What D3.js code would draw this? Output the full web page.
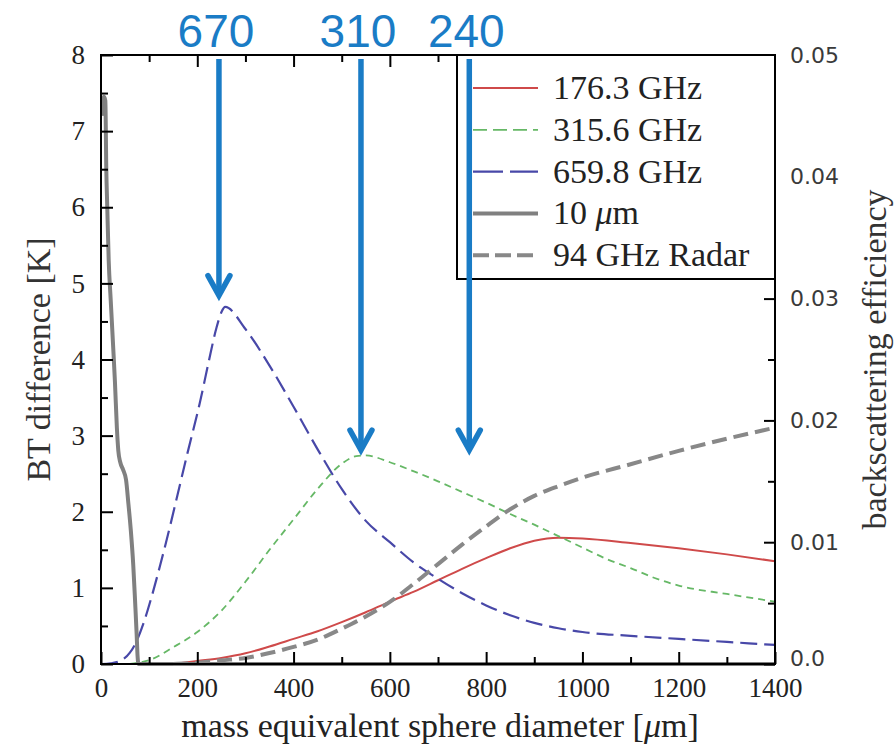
<!DOCTYPE html>
<html>
<head>
<meta charset="utf-8">
<script src="https://cdn.jsdelivr.net/npm/d3@7"></script>
<style>
  body { margin: 0; background: #fff; }
  svg { display: block; }
</style>
</head>
<body>
<div id="chart"></div>
<script>
// 176.3 GHz BT difference [K]
const diam176 = [150, 200, 250, 300, 350, 400, 450, 500, 550, 600, 650, 700, 750, 800, 850, 900, 950, 1000, 1100, 1200, 1300, 1400];
const bt176   = [0.0, 0.04, 0.08, 0.14, 0.23, 0.33, 0.43, 0.55, 0.68, 0.82, 0.95, 1.1, 1.25, 1.39, 1.52, 1.62, 1.66, 1.65, 1.59, 1.52, 1.44, 1.35];

// 315.6 GHz
const diam315 = [60, 80, 100, 150, 200, 250, 300, 350, 400, 450, 500, 530, 550, 600, 650, 700, 750, 800, 850, 900, 950, 1000, 1050, 1100, 1150, 1200, 1300, 1400];
const bt315   = [0.0, 0.02, 0.05, 0.22, 0.42, 0.7, 1.08, 1.5, 1.9, 2.3, 2.63, 2.73, 2.74, 2.65, 2.53, 2.4, 2.26, 2.12, 1.97, 1.83, 1.68, 1.53, 1.38, 1.26, 1.13, 1.03, 0.92, 0.82];

// 659.8 GHz
const diam659 = [0, 20, 40, 60, 70, 88, 105, 123, 143, 160, 180, 206, 223, 240, 250, 258, 300, 350, 400, 450, 500, 550, 600, 650, 700, 750, 800, 850, 900, 950, 1000, 1100, 1200, 1300, 1400];
const bt659   = [0.0, 0.01, 0.04, 0.15, 0.25, 0.53, 0.88, 1.3, 1.8, 2.25, 2.78, 3.45, 3.95, 4.42, 4.62, 4.69, 4.4, 3.92, 3.38, 2.82, 2.3, 1.88, 1.6, 1.33, 1.12, 0.93, 0.77, 0.64, 0.54, 0.47, 0.42, 0.37, 0.33, 0.29, 0.25];

// 10 um infrared
const diamIR = [4, 6, 9, 11, 13, 16, 20, 25, 29, 33, 36, 40, 46, 52, 57, 62, 67, 71, 74, 76, 78, 1400];
const btIR   = [7.2, 7.45, 7.4, 6.5, 6.0, 5.3, 4.8, 4.2, 3.7, 3.1, 2.8, 2.65, 2.55, 2.42, 2.1, 1.75, 1.3, 0.8, 0.4, 0.1, 0.0, 0.0];

// 94 GHz radar, backscattering efficiency (right axis)
const diamRadar = [150, 200, 250, 300, 350, 400, 450, 500, 550, 600, 650, 700, 750, 800, 850, 900, 950, 1000, 1100, 1200, 1300, 1400];
const backRadar = [0.0, 0.0001, 0.0003, 0.0005, 0.0009, 0.0014, 0.002, 0.0029, 0.0039, 0.0051, 0.0066, 0.0082, 0.0098, 0.0113, 0.0127, 0.0138, 0.0146, 0.0153, 0.0164, 0.0175, 0.0185, 0.0194];

const legendLabels = ["176.3 GHz", "315.6 GHz", "659.8 GHz", "10 μm", "94 GHz Radar"];

// blue annotations on top
const noteLabels = ["670", "310", "240"];
const noteDiam   = [245, 540, 765];
const noteTipBT  = [4.84, 2.81, 2.81];

const width = 894, height = 748;
const plotLeft = 101, plotRight = 775, plotTop = 55, plotBottom = 664;

const x = d3.scaleLinear().domain([0, 1400]).range([plotLeft, plotRight]);
const yL = d3.scaleLinear().domain([0, 8]).range([plotBottom, plotTop]);
const yR = d3.scaleLinear().domain([0, 0.05]).range([plotBottom, plotTop]);

const serif = "'Liberation Serif', 'Times New Roman', serif";

const svg = d3.select("#chart").append("svg")
    .attr("width", width)
    .attr("height", height)
    .attr("viewBox", [0, 0, width, height]);

// series styles
const series = [
    {name: legendLabels[0], xs: diam176, ys: bt176, scale: yL, color: "#cf4a4a", w: 2, dash: null, legDash: null},
    {name: legendLabels[1], xs: diam315, ys: bt315, scale: yL, color: "#66b866", w: 1.8, dash: "7,5", legDash: "14,6"},
    {name: legendLabels[2], xs: diam659, ys: bt659, scale: yL, color: "#4848a8", w: 2.2, dash: "17,7", legDash: "30,7"},
    {name: legendLabels[3], xs: diamIR, ys: btIR, scale: yL, color: "#808080", w: 4, dash: null, legDash: null},
    {name: legendLabels[4], xs: diamRadar, ys: backRadar, scale: yR, color: "#888888", w: 4, dash: "15,7", legDash: "16,6"}
];

const plot = svg.append("g");
series.forEach(s => {
    const line = d3.line()
        .x(d => x(d[0]))
        .y(d => s.scale(d[1]))
        .curve(d3.curveMonotoneX);
    plot.append("path")
        .datum(s.xs.map((v, i) => [v, s.ys[i]]))
        .attr("fill", "none")
        .attr("stroke", s.color)
        .attr("stroke-width", s.w)
        .attr("stroke-dasharray", s.dash)
        .attr("d", line);
});

// axes (ticks pointing inward)
function styleAxis(g) {
    g.select(".domain").remove();
    g.selectAll(".tick line").attr("stroke", "#000").attr("stroke-width", 2);
    g.selectAll(".tick text").attr("font-family", serif).attr("font-size", 27).attr("fill", "#222");
}

svg.append("g")
    .attr("transform", `translate(0,${plotBottom})`)
    .call(d3.axisBottom(x).tickValues(d3.range(0, 1401, 200)).tickSize(-12).tickPadding(14).tickFormat(d3.format("d")))
    .call(styleAxis);
svg.append("g")
    .attr("transform", `translate(0,${plotBottom})`)
    .call(d3.axisBottom(x).tickValues(d3.range(100, 1400, 200)).tickSize(-7).tickFormat(""))
    .call(styleAxis);
svg.append("g")
    .attr("transform", `translate(0,${plotTop})`)
    .call(d3.axisTop(x).tickValues(d3.range(200, 1400, 200)).tickSize(-12).tickFormat(""))
    .call(styleAxis);
svg.append("g")
    .attr("transform", `translate(0,${plotTop})`)
    .call(d3.axisTop(x).tickValues(d3.range(100, 1400, 200)).tickSize(-7).tickFormat(""))
    .call(styleAxis);

svg.append("g")
    .attr("transform", `translate(${plotLeft},0)`)
    .call(d3.axisLeft(yL).tickValues(d3.range(0, 9, 1)).tickSize(-12).tickPadding(16))
    .call(styleAxis);
svg.append("g")
    .attr("transform", `translate(${plotLeft},0)`)
    .call(d3.axisLeft(yL).tickValues(d3.range(0.5, 8, 1)).tickSize(-7).tickFormat(""))
    .call(styleAxis);

const rightAxis = svg.append("g")
    .attr("transform", `translate(${plotRight},0)`)
    .call(d3.axisRight(yR).tickValues([0, 0.01, 0.02, 0.03, 0.04, 0.05]).tickSize(-11).tickPadding(15)
        .tickFormat(d => d === 0 ? "0.0" : d3.format(".2f")(d)))
    .call(styleAxis);
rightAxis.selectAll(".tick text")
    .attr("font-family", "'DejaVu Sans', Verdana, sans-serif")
    .attr("font-size", 22)
    .attr("fill", "#3a3a3a")
    .attr("dy", d => d === 0 ? "0.05em" : "0.32em");
svg.append("g")
    .attr("transform", `translate(${plotRight},0)`)
    .call(d3.axisRight(yR).tickValues([0.005, 0.015, 0.025, 0.035, 0.045]).tickSize(-7).tickFormat(""))
    .call(styleAxis);

// frame
svg.append("rect")
    .attr("x", plotLeft).attr("y", plotTop)
    .attr("width", plotRight - plotLeft).attr("height", plotBottom - plotTop)
    .attr("fill", "none").attr("stroke", "#000").attr("stroke-width", 2);

// axis titles
svg.append("text")
    .attr("x", (plotLeft + plotRight) / 2 + 2).attr("y", 737)
    .attr("text-anchor", "middle")
    .attr("font-family", serif).attr("font-size", 34).attr("fill", "#222")
    .html('mass equivalent sphere diameter [<tspan font-style="italic">μ</tspan>m]');

svg.append("text")
    .attr("transform", `translate(50,${(plotTop + plotBottom) / 2}) rotate(-90)`)
    .attr("text-anchor", "middle")
    .attr("font-family", serif).attr("font-size", 34).attr("fill", "#333")
    .text("BT difference [K]");

svg.append("text")
    .attr("transform", `translate(886,${(plotTop + plotBottom) / 2}) rotate(-90)`)
    .attr("text-anchor", "middle")
    .attr("font-family", serif).attr("font-size", 34).attr("fill", "#333")
    .text("backscattering efficiency");

// legend
const legend = svg.append("g").attr("transform", "translate(457,55)");
legend.append("rect")
    .attr("width", plotRight - 457).attr("height", 224)
    .attr("fill", "#fff").attr("stroke", "#000").attr("stroke-width", 2);

series.forEach((s, i) => {
    const row = legend.append("g").attr("transform", `translate(0,${33 + i * 41.8})`);
    row.append("line")
        .attr("x1", 16).attr("x2", 81)
        .attr("stroke", s.color)
        .attr("stroke-width", s.w)
        .attr("stroke-dasharray", s.legDash);
    const t = row.append("text")
        .attr("x", 96).attr("y", 11)
        .attr("font-family", serif).attr("font-size", 34).attr("fill", "#222");
    if (s.name.includes("μ")) {
        t.html('10 <tspan font-style="italic">μ</tspan>m');
    } else {
        t.text(s.name);
    }
});

// blue arrows with labels
const blue = "#1a7cc6";
const notes = svg.append("g");
noteLabels.forEach((lab, i) => {
    const ax = x(noteDiam[i]);
    const tip = yL(noteTipBT[i]);
    notes.append("line")
        .attr("x1", ax).attr("x2", ax)
        .attr("y1", plotTop + 4).attr("y2", tip - 3)
        .attr("stroke", blue).attr("stroke-width", 5.5);
    notes.append("path")
        .attr("d", `M${ax - 11},${tip - 20}L${ax},${tip}L${ax + 11},${tip - 20}`)
        .attr("fill", "none").attr("stroke", blue).attr("stroke-width", 5.5)
        .attr("stroke-linecap", "round").attr("stroke-linejoin", "miter");
    notes.append("text")
        .attr("x", ax - 3).attr("y", 47)
        .attr("text-anchor", "middle")
        .attr("font-family", "'Liberation Sans', Arial, sans-serif")
        .attr("font-size", 46).attr("fill", blue)
        .text(lab);
});
</script>
</body>
</html>
